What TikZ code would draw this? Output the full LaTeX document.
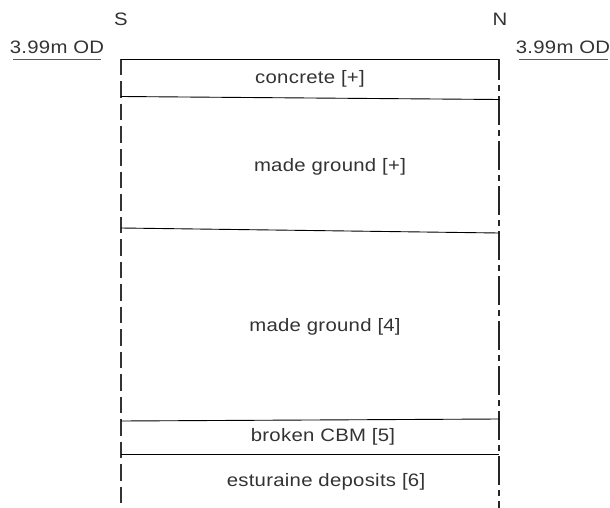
\documentclass[tikz,border=0pt]{standalone}
\usepackage{fontspec}
\setmainfont{Liberation Sans}[FakeStretch=1.13,LetterSpace=1.5]
\begin{document}
\begin{tikzpicture}[x=1pt,y=-1pt,
  lbl/.style={inner sep=0pt,font=\fontsize{18}{20}\selectfont,text=black!80},
  layer/.style={draw=black,line width=0.9pt},
  odline/.style={draw=black!65,line width=1.4pt},
  sside/.style={draw=black!80,line width=1.2pt,dash pattern=on 16.5pt off 6pt},
  nside/.style={draw=black!85,line width=1.4pt,dash pattern=on 29pt off 5pt on 6pt off 5pt,dash phase=8pt}]
\useasboundingbox (0,0) rectangle (610,508);
% corners
\coordinate (tl) at (121,59);
\coordinate (tr) at (499,59);
\coordinate (bl) at (121,508);
\coordinate (br) at (499,508);
\coordinate (c1l) at (121,96.5);
\coordinate (c1r) at (499,99.5);
\coordinate (c2l) at (121,228);
\coordinate (c2r) at (499,233);
\coordinate (c3l) at (121,421);
\coordinate (c3r) at (499,419);
\coordinate (c4l) at (121,454);
\coordinate (c4r) at (499,454);
% sides
\draw[sside] (tl) -- (bl);
\draw[nside] (tr) -- (br);
% layers
\draw[layer] (tl) -- (tr);
\draw[layer] (c1l) -- (c1r);
\draw[layer] (c2l) -- (c2r);
\draw[layer] (c3l) -- (c3r);
\draw[layer] (c4l) -- (c4r);
% OD markers
\node[lbl] (odl) at (57,47.5) {3.99m OD};
\node[lbl] (odr) at (563,47.5) {3.99m OD};
\coordinate (odl1) at (13,59.5);
\coordinate (odl2) at (101,59.5);
\coordinate (odr1) at (519,59.5);
\coordinate (odr2) at (608,59.5);
\draw[odline] (odl1) -- (odl2);
\draw[odline] (odr1) -- (odr2);
% compass
\node[lbl] (s) at (121,19) {S};
\node[lbl] (n) at (500,19) {N};
% layer labels
\node[lbl] (l1) at (310,78.5) {concrete [+]};
\node[lbl] (l2) at (330,166.5) {made ground [+]};
\node[lbl] (l3) at (325,326.5) {made ground [4]};
\node[lbl] (l4) at (323,436.5) {broken CBM [5]};
\node[lbl] (l5) at (326,481.5) {esturaine deposits [6]};
\end{tikzpicture}
\end{document}
